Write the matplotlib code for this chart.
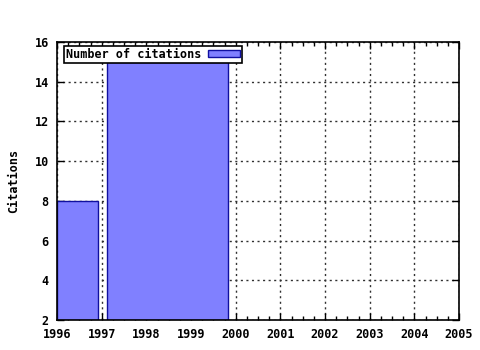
import matplotlib.pyplot as plt
from matplotlib.ticker import MultipleLocator

# citations per period (bar left / right edges in years)
bar_left = [1996.0, 1997.11]
bar_right = [1996.91, 1999.82]
citations = [8, 15]

years = list(range(1996, 2006))
yticks = [2, 4, 6, 8, 10, 12, 14, 16]

plt.rcParams['font.family'] = 'DejaVu Sans Mono'
plt.rcParams['font.weight'] = 'bold'
plt.rcParams['axes.labelweight'] = 'bold'
plt.rcParams['font.size'] = 8.5

fig = plt.figure(figsize=(4.8, 3.5), dpi=100)
ax = fig.add_axes([57 / 480, 1 - 320 / 350, (459 - 57) / 480, (320 - 42) / 350])

widths = [r - l for l, r in zip(bar_left, bar_right)]
ax.bar(bar_left, [c - 2 for c in citations], width=widths, bottom=2, align='edge',
       color='#8080ff', edgecolor='#1010a0', linewidth=1, label='Number of citations',
       zorder=2)

ax.set_xlim(1996, 2005)
ax.set_ylim(2, 16)
ax.set_xticks(years)
ax.set_yticks(yticks)
ax.xaxis.set_minor_locator(MultipleLocator(0.25))

ax.grid(True, which='major', linestyle=(0, (1.5, 2.5)), color='#303030', linewidth=1, zorder=1)
ax.set_axisbelow(True)

ax.tick_params(which='both', direction='in', top=True, right=True, width=1)
ax.tick_params(which='major', length=5, pad=6)
ax.tick_params(which='minor', length=3)
for s in ax.spines.values():
    s.set_linewidth(1.2)

ax.set_ylabel('Citations', labelpad=10)

leg = ax.legend(loc='upper left', bbox_to_anchor=(0.015, 0.99), markerfirst=False,
                fancybox=False, framealpha=1, edgecolor='black', borderpad=0.15,
                handlelength=2.7, handleheight=0.5, handletextpad=0.6,
                borderaxespad=0.1)
leg.get_frame().set_linewidth(1.2)

plt.savefig('out.png', dpi=100)
